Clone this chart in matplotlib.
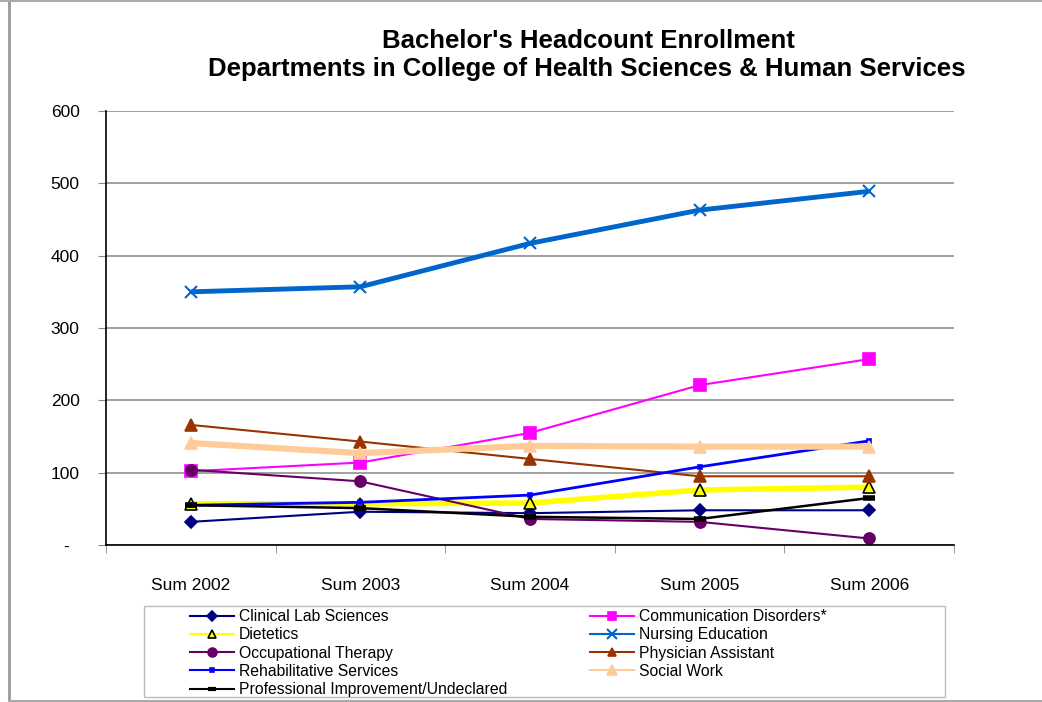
import matplotlib
matplotlib.use('Agg')
import matplotlib.pyplot as plt
from matplotlib.lines import Line2D
from matplotlib.patches import Rectangle

plt.rcParams['font.family'] = ['Liberation Sans', 'DejaVu Sans']

terms = ['Sum 2002', 'Sum 2003', 'Sum 2004', 'Sum 2005', 'Sum 2006']

clinical_lab   = [32, 46, 44, 48, 48]
comm_disorders = [102, 114, 155, 221, 257]
dietetics      = [57, 57, 58, 76, 80]
nursing        = [350, 357, 417, 463, 489]
occ_therapy    = [104, 88, 36, 32, 9]
physician_asst = [166, 143, 119, 95, 95]
rehab          = [55, 59, 69, 108, 144]
social_work    = [141, 127, 137, 136, 136]
prof_improve   = [55, 51, 39, 36, 65]

y_ticks  = [0, 100, 200, 300, 400, 500, 600]
y_labels = ['-  ', '100', '200', '300', '400', '500', '600']

# label, values, line colour, line width, marker, marker size, face, edge
series = [
    ('Clinical Lab Sciences', clinical_lab, '#000080', 1.5, 'D', 6, '#000080', '#000080'),
    ('Communication Disorders*', comm_disorders, '#FF00FF', 1.5, 's', 8, '#FF00FF', '#FF00FF'),
    ('Dietetics', dietetics, '#FFFF00', 4.0, '^', 8, '#FFFF00', '#000000'),
    ('Nursing Education', nursing, '#0066CC', 3.5, 'x', 9, '#0066CC', '#0066CC'),
    ('Occupational Therapy', occ_therapy, '#660066', 1.5, 'o', 8, '#660066', '#660066'),
    ('Physician Assistant', physician_asst, '#993300', 1.5, '^', 8, '#993300', '#993300'),
    ('Rehabilitative Services', rehab, '#0000FF', 2.0, 's', 3, '#0000FF', '#0000FF'),
    ('Social Work', social_work, '#FFCC99', 4.5, '^', 9, '#FFCC99', '#FFCC99'),
    ('Professional Improvement/Undeclared', prof_improve, '#000000', 1.8, '_', 8, '#000000', '#000000'),
]

fig = plt.figure(figsize=(10.42, 7.02), dpi=100, facecolor='white')
ax = fig.add_axes([106 / 1042, 1 - 545 / 702, (954 - 106) / 1042, (545 - 111) / 702])

x = list(range(len(terms)))
handles = {}
for name, vals, col, lw, mk, ms, fc, ec in series:
    mew = 4 if mk == '_' else (1.5 if mk == 'x' else 1.2)
    ax.plot(x, vals, color=col, linewidth=lw, marker=mk, markersize=ms,
            markerfacecolor=fc, markeredgecolor=ec, markeredgewidth=mew,
            solid_capstyle='butt', clip_on=False)
    # thinner line / smaller marker for the legend key, as in the original
    handles[name] = Line2D([], [], color=col, linewidth=1.5, marker=mk,
                           markersize=ms * 0.8, markerfacecolor=fc,
                           markeredgecolor=ec, markeredgewidth=min(mew, 3))

ax.set_xlim(-0.5, len(terms) - 0.5)
ax.set_ylim(0, 600)
ax.set_yticks(y_ticks)
ax.set_yticklabels(y_labels)
ax.set_xticks(x)
ax.set_xticklabels(terms)
ax.set_xticks([i - 0.5 for i in range(len(terms) + 1)], minor=True)
ax.tick_params(axis='x', which='major', length=0, pad=24, labelsize=12.5)
ax.tick_params(axis='x', which='minor', length=6, direction='out', color='#888888')
ax.tick_params(axis='y', length=6, direction='out', color='#888888', pad=13, labelsize=12.5)
ax.yaxis.grid(True, color='#999999', linewidth=1.3)
ax.set_axisbelow(True)
for s in ('top', 'right'):
    ax.spines[s].set_visible(False)
for s in ('left', 'bottom'):
    ax.spines[s].set_color('black')
    ax.spines[s].set_linewidth(1.2)

fig.text(588 / 1042, 1 - 41 / 702, "Bachelor's Headcount Enrollment",
         ha='center', va='center', fontsize=18.5, fontweight='bold')
fig.text(587 / 1042, 1 - 69 / 702, 'Departments in College of Health Sciences & Human Services',
         ha='center', va='center', fontsize=18.5, fontweight='bold')

# legend: two columns filled row-wise, drawn as two frameless legends in one box
col1 = ['Clinical Lab Sciences', 'Dietetics', 'Occupational Therapy',
        'Rehabilitative Services', 'Professional Improvement/Undeclared']
col2 = ['Communication Disorders*', 'Nursing Education', 'Physician Assistant', 'Social Work']
leg_kw = dict(frameon=False, fontsize=11.3, handlelength=2.8, handletextpad=0.3,
              labelspacing=0.21, borderpad=0, borderaxespad=0, loc='upper left')
fig.legend([handles[n] for n in col1], col1,
           bbox_to_anchor=(190 / 1042, 1 - 609 / 702), **leg_kw)
fig.legend([handles[n] for n in col2], col2,
           bbox_to_anchor=(590 / 1042, 1 - 609 / 702), **leg_kw)
fig.add_artist(Rectangle((144 / 1042, 1 - 697 / 702), (945 - 144) / 1042, 91 / 702,
                         transform=fig.transFigure, fill=False,
                         edgecolor='#BBBBBB', linewidth=1))

# outer chart border
fig.add_artist(Line2D([9 / 1042, 9 / 1042], [1 - 701 / 702, 1], transform=fig.transFigure,
                      color='#999999', linewidth=2))
fig.add_artist(Line2D([9 / 1042, 1], [1 - 701 / 702, 1 - 701 / 702], transform=fig.transFigure,
                      color='#AAAAAA', linewidth=1.5))
fig.add_artist(Line2D([0, 1], [1 - 1 / 702, 1 - 1 / 702], transform=fig.transFigure,
                      color='#AAAAAA', linewidth=1.5))

fig.savefig('out.png', dpi=100, facecolor='white')
